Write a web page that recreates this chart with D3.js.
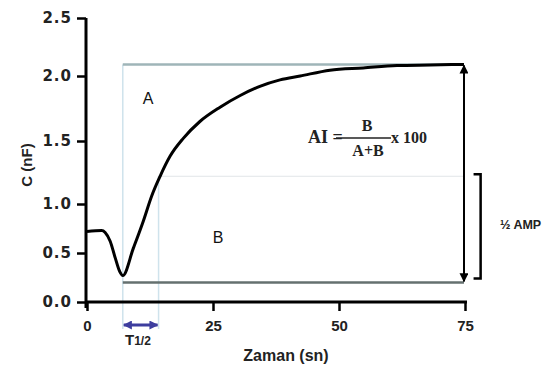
<!DOCTYPE html>
<html>
<head>
<meta charset="utf-8">
<script src="https://cdn.jsdelivr.net/npm/d3@7"></script>
<style>
  body { margin: 0; background: #fff; }
  svg { display: block; }
</style>
</head>
<body>
<div id="chart"></div>
<script>
const width = 550, height = 372;

// curve: time (sn) and capacitance (nF)
const curveTime = [0, 2.9, 3.6, 4.6, 5.6, 6.5, 7.1, 9.2, 11.2, 12.8, 14.5, 16.5, 19.1, 22.4, 26.4, 30.4, 34.3, 38.3, 42.3, 48.2, 54.8, 61.5, 68.1, 74.8];
const curveC = [0.72, 0.73, 0.71, 0.62, 0.45, 0.31, 0.27, 0.55, 0.83, 1.06, 1.22, 1.38, 1.52, 1.65, 1.76, 1.85, 1.92, 1.97, 2.0, 2.05, 2.07, 2.09, 2.095, 2.1];

const xTicks = [0, 25, 50, 75];
const yTicks = [0.0, 0.5, 1.0, 1.5, 2.0, 2.5];

// reference lines
const tStart = 7.1;      // minimum / start of recovery
const tHalf = 14.2;      // T1/2
const tEnd = 74.8;
const baseLevel = 0.2;
const topLevel = 2.1;
const halfLevel = 1.22;

const sans = "'Liberation Sans', Arial, sans-serif";
const serif = "'Liberation Serif', 'Times New Roman', serif";

const svg = d3.select("#chart").append("svg")
  .attr("width", width)
  .attr("height", height)
  .attr("font-family", sans);

const x = d3.scaleLinear().domain([0, 75]).range([87, 465]);
// the axis in the source image is slightly uneven, so use a piecewise scale
const y = d3.scaleLinear().domain(yTicks).range([302, 253, 204, 141, 76, 18]);

const defs = svg.append("defs");
function marker(id, color, size) {
  const m = defs.append("marker")
    .attr("id", id)
    .attr("viewBox", "0 0 10 10")
    .attr("refX", 9).attr("refY", 5)
    .attr("markerWidth", size).attr("markerHeight", size)
    .attr("markerUnits", "userSpaceOnUse")
    .attr("orient", "auto-start-reverse");
  m.append("path").attr("d", "M0,0 L10,5 L0,10 Z").attr("fill", color);
}
marker("arrowBlack", "#000", 9);
marker("arrowBlue", "#3d3d9e", 9);

// light vertical guides
svg.append("line")
  .attr("x1", x(tStart)).attr("x2", x(tStart))
  .attr("y1", y(topLevel)).attr("y2", 329)
  .attr("stroke", "#cfe3ec").attr("stroke-width", 1.5);
svg.append("line")
  .attr("x1", x(tHalf)).attr("x2", x(tHalf))
  .attr("y1", y(halfLevel)).attr("y2", 329)
  .attr("stroke", "#cfe3ec").attr("stroke-width", 1.5);

// half amplitude line
svg.append("line")
  .attr("x1", x(tHalf)).attr("x2", x(tEnd))
  .attr("y1", y(halfLevel)).attr("y2", y(halfLevel))
  .attr("stroke", "#e2e6e8").attr("stroke-width", 1);

// top and base lines
svg.append("line")
  .attr("x1", x(tStart)).attr("x2", x(tEnd))
  .attr("y1", y(topLevel)).attr("y2", y(topLevel))
  .attr("stroke", "#9fb5b8").attr("stroke-width", 2.5);
svg.append("line")
  .attr("x1", x(tStart)).attr("x2", x(tEnd))
  .attr("y1", y(baseLevel)).attr("y2", y(baseLevel))
  .attr("stroke", "#65706f").attr("stroke-width", 2.5);

// axes
const xAxis = svg.append("g")
  .attr("transform", `translate(0,${y(0)})`)
  .call(d3.axisBottom(x).tickValues(xTicks).tickSize(9).tickPadding(9).tickFormat(d3.format("d")));
const yAxis = svg.append("g")
  .attr("transform", `translate(${x(0) - 1},0)`)
  .call(d3.axisLeft(y).tickValues(yTicks).tickSize(9).tickPadding(5).tickFormat(d3.format(".1f")));

[xAxis, yAxis].forEach(g => {
  g.attr("font-family", sans);
  g.select(".domain").attr("stroke-width", 3).attr("stroke", "#000");
  g.selectAll(".tick line").attr("stroke-width", 2.5).attr("stroke", "#000");
  g.selectAll("text").attr("fill", "#222").attr("font-weight", "bold").attr("font-size", 15);
});
xAxis.select(".domain").attr("d", `M${x(0) - 2},0H${x(75) + 2}`);
yAxis.select(".domain").attr("d", `M0,${y(2.5)}V${y(0) + 6}`);
yAxis.attr("font-family", "'DejaVu Sans', sans-serif");
yAxis.selectAll("text").attr("letter-spacing", 1);

// the curve
const line = d3.line()
  .x((d, i) => x(curveTime[i]))
  .y(d => y(d))
  .curve(d3.curveMonotoneX);
svg.append("path")
  .datum(curveC)
  .attr("d", line)
  .attr("fill", "none")
  .attr("stroke", "#000")
  .attr("stroke-width", 3)
  .attr("stroke-linejoin", "round");

// amplitude arrow
svg.append("line")
  .attr("x1", x(tEnd)).attr("x2", x(tEnd))
  .attr("y1", y(topLevel) + 1).attr("y2", y(baseLevel) - 1)
  .attr("stroke", "#000").attr("stroke-width", 2)
  .attr("marker-start", "url(#arrowBlack)")
  .attr("marker-end", "url(#arrowBlack)");

// half amplitude bracket
const bx = x(78.1), bx0 = x(76.7);
svg.append("path")
  .attr("d", `M${bx0},${y(halfLevel) - 2}H${bx}V${y(baseLevel) - 4}H${bx0}`)
  .attr("fill", "none").attr("stroke", "#000").attr("stroke-width", 2.5);
svg.append("text")
  .attr("x", 500).attr("y", 229)
  .attr("font-size", 12.5).attr("font-weight", "bold").attr("fill", "#222")
  .text("½ AMP");

// T1/2 arrow
svg.append("line")
  .attr("x1", x(tStart) + 1).attr("x2", x(tHalf) - 1)
  .attr("y1", 325).attr("y2", 325)
  .attr("stroke", "#3d3d9e").attr("stroke-width", 3)
  .attr("marker-start", "url(#arrowBlue)")
  .attr("marker-end", "url(#arrowBlue)");
const tLabel = svg.append("text")
  .attr("x", 125).attr("y", 345)
  .attr("font-size", 15).attr("font-weight", "bold").attr("fill", "#222");
tLabel.append("tspan").text("T");
tLabel.append("tspan").attr("font-size", 12).text("1/2");

// area labels
svg.append("text").attr("x", 148).attr("y", 104).attr("text-anchor", "middle")
  .attr("font-size", 16).attr("fill", "#111").text("A");
svg.append("text").attr("x", 218).attr("y", 243).attr("text-anchor", "middle")
  .attr("font-size", 16).attr("fill", "#111").text("B");

// formula
const f = svg.append("g")
  .attr("font-family", serif)
  .attr("font-weight", "bold").attr("fill", "#222");
f.append("text").attr("x", 308).attr("y", 143).attr("font-size", 18).text("AI =");
f.append("line").attr("x1", 336).attr("x2", 391).attr("y1", 138).attr("y2", 138)
  .attr("stroke", "#222").attr("stroke-width", 1.3);
f.append("text").attr("x", 367).attr("y", 131).attr("text-anchor", "middle").attr("font-size", 16).text("B");
f.append("text").attr("x", 368).attr("y", 156).attr("text-anchor", "middle").attr("font-size", 16).text("A+B");
f.append("text").attr("x", 391).attr("y", 143).attr("font-size", 16).text("x 100");

// axis titles
svg.append("text")
  .attr("transform", `translate(32,${165}) rotate(-90)`)
  .attr("text-anchor", "middle")
  .attr("font-size", 15).attr("font-weight", "bold").attr("fill", "#222")
  .text("C (nF)");
svg.append("text")
  .attr("x", 286).attr("y", 361)
  .attr("text-anchor", "middle")
  .attr("font-size", 16).attr("font-weight", "bold").attr("fill", "#222")
  .text("Zaman (sn)");
</script>
</body>
</html>
